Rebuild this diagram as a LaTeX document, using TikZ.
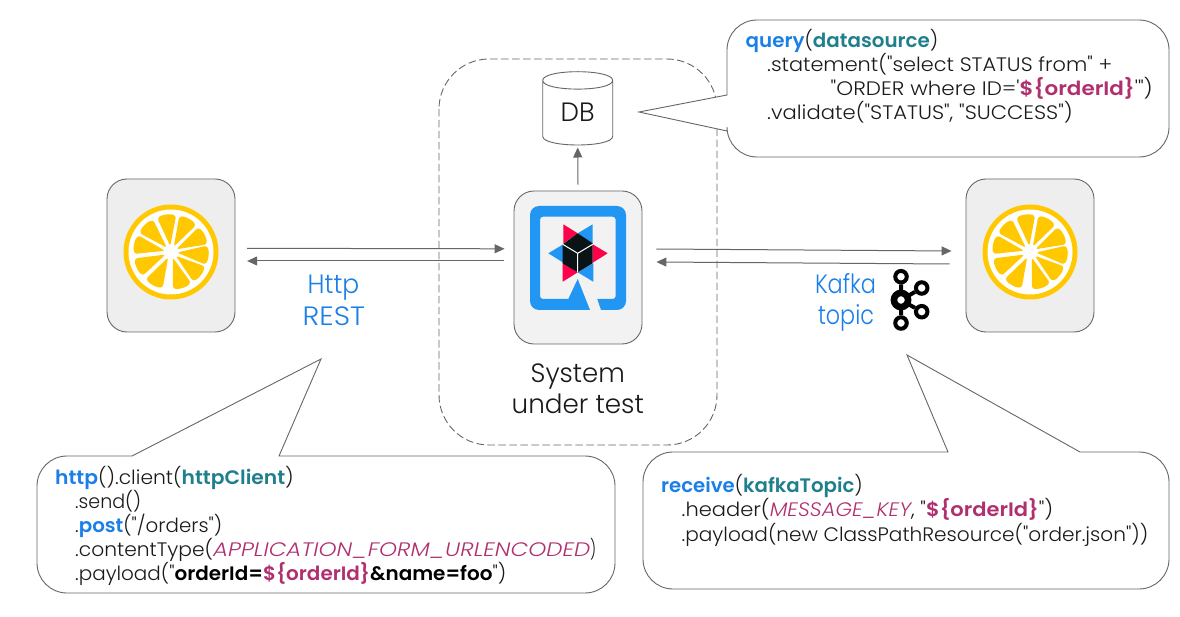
\documentclass[tikz,border=0pt]{standalone}
\usepackage{graphicx}
\usepackage{fontspec}
\setmainfont{Poppins Light}[Ligatures=TeXOff,BoldFont={Poppins SemiBold},ItalicFont={Poppins Light Italic}]
\usetikzlibrary{arrows.meta,calc}
\definecolor{edge}{HTML}{666666}
\definecolor{linkgray}{HTML}{666666}
\definecolor{codeblue}{HTML}{1A7FE8}
\definecolor{codeteal}{HTML}{1F7F8C}
\definecolor{codepink}{HTML}{B0306F}
\definecolor{ink}{HTML}{1A1A1A}
\definecolor{lemon}{HTML}{FFC800}
\definecolor{qblue}{HTML}{2196F3}
\definecolor{qpink}{HTML}{FF004A}
\definecolor{qblack}{HTML}{0A1416}
\newcommand{\kw}[1]{\textcolor{codeblue}{\bfseries #1}}
\newcommand{\argm}[1]{\textcolor{codeteal}{\bfseries #1}}
\newcommand{\tpl}[1]{\textcolor{codepink}{\bfseries #1}}
\newcommand{\cst}[1]{\textcolor{codepink}{\itshape #1}}
\newcommand{\fit}[2]{\resizebox{#1pt}{\height}{#2}}
\tikzset{
  card/.style={draw=edge,line width=0.9pt,rounded corners=20pt,minimum width=128pt,minimum height=153pt,inner sep=0pt},
  link/.style={draw=linkgray,line width=1pt,-{Stealth[length=10pt,width=9pt,inset=0pt]}},
  bubble/.style={draw=edge,line width=0.9pt,fill=white},
  code/.style={anchor=base west,inner sep=0pt,text=ink,font=\fontsize{19.5}{24}\selectfont},
  bigtext/.style={anchor=base,inner sep=0pt,font=\fontsize{26.5}{30}\selectfont},
  kafkaring/.style={draw=black,line width=4pt,circle,minimum size=11.5pt,inner sep=0pt}
}
\newcommand{\lemonslice}[2]{%
  \fill[lemon] (#1,#2) circle (47.5pt);
  \fill[white] (#1,#2) circle (42.5pt);
  \foreach \a in {72,38,5,-27,-62,-97,-134,-168,155,118}{
    \fill[lemon,rounded corners=2.5pt]
      ($(#1,#2)+(\a:6)$) -- ($(#1,#2)+(\a+12:18)$) -- ($(#1,#2)+(\a+15:36.5)$) -- ($(#1,#2)+(\a+7:38)$) -- ($(#1,#2)+(\a-7:38)$) -- ($(#1,#2)+(\a-15:36.5)$) -- ($(#1,#2)+(\a-12:18)$) -- cycle;
  }%
}
\begin{document}
\begin{tikzpicture}[x=1pt,y=-1pt]
\useasboundingbox (0,0) rectangle (1180,617);
\fill[white] (0,0) rectangle (1180,617);
% dashed system boundary
\draw[edge,line width=0.9pt,dash pattern=on 7.5pt off 3.5pt,rounded corners=50pt] (439,59) rectangle (717,445);
% cards
\node[card,fill=black!6.5] (clientcard) at (171,255.5) {};
\node[card,fill=black!6.5] (kafkacard) at (1030,255.5) {};
\node[card,fill=black!5] (sut) at (578,267.5) {};
\lemonslice{171}{252}
\lemonslice{1030}{252}
% quarkus logo
\fill[qblue] (590,310) [rounded corners=9pt] -- (530,310) -- (530,206) -- (626,206) -- (626,310) [sharp corners] -- (601,310) -- (597.3,299) [rounded corners=3pt] -- (615.7,299) -- (615.7,216.7) -- (540,216.7) -- (540,299) [sharp corners] -- (568.3,299) -- (577.7,279) -- cycle;
\fill[qpink] (563.3,224.3) -- (577.7,233.3) -- (563.3,243.5) -- cycle;
\fill[qblue] (592.7,224.3) -- (577.7,233.3) -- (592.7,243.5) -- cycle;
\fill[qblue] (548.3,253.3) -- (563.3,244.3) -- (563.3,262.7) -- cycle;
\fill[qpink] (607.7,253.3) -- (592.7,244.3) -- (592.7,262.7) -- cycle;
\fill[qpink] (562.7,281.7) -- (562.7,262.7) -- (577.7,272.3) -- cycle;
\fill[qblue] (593.3,281.7) -- (593.3,263.3) -- (577.7,272.3) -- cycle;
\fill[qblack] (577.7,233.3) -- (592.7,243.3) -- (592.7,263.3) -- (577.7,272.3) -- (562.7,263.3) -- (562.7,244.3) -- cycle;
\draw[white,line width=1pt] (562.7,244.3) -- (577.7,253.3) -- (592.7,244.3) (577.7,253.3) -- (577.7,272.3);
% database
\draw[edge,line width=0.9pt,fill=white] (542.7,80.4) -- (542.7,136.3) .. controls (542.7,147.9) and (612.7,147.9) .. (612.7,136.3) -- (612.7,80.4) .. controls (612.7,68.8) and (542.7,68.8) .. (542.7,80.4) .. controls (542.7,92) and (612.7,92) .. (612.7,80.4);
\node[inner sep=0pt,minimum width=70pt,minimum height=72pt,text height=27.4pt,text depth=0pt,text=ink,font=\fontsize{26.5}{30}\selectfont] (db) at (577.7,108) {\fit{34}{DB}};
% connectors
\draw[link] ([yshift=6pt]sut.north) -- ([yshift=-3.3pt]db.south);
\draw[link] ([shift={(11.7,-7.2)}]clientcard.east) -- ([shift={(-9,-18.7)}]sut.west);
\draw[link] ([shift={(-10,-6.5)}]sut.west) -- ([shift={(11.7,5.5)}]clientcard.east);
\draw[link] ([shift={(14,-18.5)}]sut.east) -- ([shift={(-14,-4.5)}]kafkacard.west);
\draw[link] ([shift={(-16,8.5)}]kafkacard.west) -- ([shift={(14,-5.5)}]sut.east);
% labels
\node[bigtext,text=codeblue] (http) at (333.5,294) {\fit{51.6}{Http}};
\node[bigtext,text=codeblue] (rest) at (333.8,325) {\fit{62.3}{REST}};
\node[bigtext,text=codeblue] (kafka) at (845.5,293.5) {\fit{61}{Kafka}};
\node[bigtext,text=codeblue] (topic) at (846,324.5) {\fit{56}{topic}};
\node[bigtext,text=ink] (system) at (577.8,382) {\fit{94.3}{System}};
\node[bigtext,text=ink] (under) at (577.8,413) {\fit{132.3}{under test}};
% kafka logo
\node[kafkaring] (khub) at (901,300) {};
\node[kafkaring] (ktop) at (901,276.7) {};
\node[kafkaring] (kbot) at (901,323) {};
\node[kafkaring] (kup) at (921.7,288) {};
\node[kafkaring] (kdn) at (921.7,311.7) {};
\draw[black,line width=4pt] (khub) -- (ktop) (khub) -- (kbot) (khub) -- (kup) (khub) -- (kdn);
\draw[black,line width=4.8pt] (khub) circle (8pt);
% callouts
\draw[bubble] (727,95) -- (727,50) arc[start angle=180,end angle=90,radius=30pt] -- (1139,20) arc[start angle=90,end angle=0,radius=30pt] -- (1169,127) arc[start angle=0,end angle=-90,radius=30pt] -- (757,157) arc[start angle=-90,end angle=-180,radius=30pt] -- (727,131) -- (639,112) -- cycle;
\draw[bubble] (132,456) -- (321,359) -- (279,456) -- (585,456) arc[start angle=90,end angle=0,radius=30pt] -- (615,563) arc[start angle=0,end angle=-90,radius=30pt] -- (67,593) arc[start angle=-90,end angle=-180,radius=30pt] -- (37,486) arc[start angle=180,end angle=90,radius=30pt] -- cycle;
\draw[bubble] (948,452) -- (907,355) -- (1080,452) -- (1139,452) arc[start angle=90,end angle=0,radius=30pt] -- (1169,559) arc[start angle=0,end angle=-90,radius=30pt] -- (673,589) arc[start angle=-90,end angle=-180,radius=30pt] -- (643,482) arc[start angle=180,end angle=90,radius=30pt] -- cycle;
% code
\node[code] (q1) at (745.5,48) {\fit{192.5}{\kw{query}(\argm{datasource})}};
\node[code] (q2) at (767,72) {\fit{345}{.statement("select STATUS from" +}};
\node[code] (q3) at (830.5,96) {\fit{322}{"ORDER where ID='\tpl{\$\{orderId\}}'")}};
\node[code] (q4) at (767,120) {\fit{305.5}{.validate("STATUS", "SUCCESS")}};
\node[code] (h1) at (55,484) {\fit{238.5}{\kw{http}().client(\argm{httpClient})}};
\node[code] (h2) at (75,508) {\fit{66}{.send()}};
\node[code] (h3) at (75,532) {\fit{147}{.\kw{post}("/orders")}};
\node[code] (h4) at (75,556) {\fit{138}{.contentType(}\fit{377}{\cst{APPLICATION\_FORM\_URLENCODED}}\fit{6}{)}};
\node[code] (h5) at (75,580) {\fit{431}{.payload("\textcolor{black}{\bfseries orderId=}\tpl{\$\{orderId\}}\textcolor{black}{\bfseries \&name=foo}")}};
\node[code] (k1) at (661,492) {\fit{201.5}{\kw{receive}(\argm{kafkaTopic})}};
\node[code] (k2) at (681.5,516.5) {\fit{371.5}{.header(\cst{MESSAGE\_KEY}, "\tpl{\$\{orderId\}}")}};
\node[code] (k3) at (681.5,541) {\fit{466.5}{.payload(new ClassPathResource("order.json"))}};
\end{tikzpicture}
\end{document}
